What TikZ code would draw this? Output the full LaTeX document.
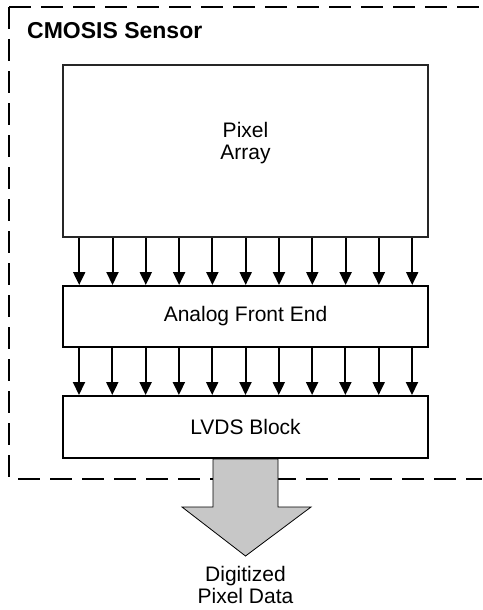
\documentclass[tikz,border=0pt]{standalone}
\usepackage{fontspec}
\setmainfont{Liberation Sans}
\usetikzlibrary{arrows.meta}
\begin{document}
\begin{tikzpicture}[x=1pt,y=-1pt,
  box/.style={draw=black, line width=2pt, minimum width=365pt, inner sep=0pt, font=\fontsize{21}{22}\selectfont},
  lbl/.style={align=center, inner sep=0pt, font=\fontsize{21}{22}\selectfont},
  arr/.style={line width=2pt, -{Triangle[width=12pt,length=13pt]}},
  frame/.style={line width=2pt, dash pattern=on 22pt off 10pt},
  bigarrow/.style={draw=black, line width=0.8pt, fill=black!22}]
\useasboundingbox (0,0) rectangle (482,610);
% sensor frame
\draw[frame] (9,7) -- (9,479);
\draw[frame] (9,7) -- (482,7);
\draw[frame] (18,479) -- (482,479);
\node[anchor=west, inner sep=0pt, font=\fontsize{23}{25}\selectfont\bfseries] (title) at (27,31) {CMOSIS Sensor};
% blocks
\node[box, draw=black!85, line width=1.6pt, minimum height=172pt] (pa) at (245.5,151) {};
\node[lbl] (patext) at (245.5,143) {Pixel\\Array};
\node[box, minimum height=61pt] (afe) at (245.5,316.5) {Analog Front End};
\node[box, minimum height=62pt] (lvds) at (245.5,427) {LVDS Block};
% arrows
\foreach \i in {0,...,10} {
  \coordinate (t\i) at ([xshift={17+33.3*\i}]pa.south west);
  \draw[arr] (t\i) -- (t\i |- afe.north);
  \coordinate (u\i) at ([xshift={17+33.3*\i}]afe.south west);
  \draw[arr] (u\i) -- (u\i |- lvds.north);
}
% output arrow
\coordinate (o) at (lvds.south);
\draw[bigarrow] ([xshift=-32.5pt]o) -- ([xshift=32.5pt]o) -- ([xshift=32.5pt,yshift=-48pt]o)
  -- ([xshift=65.5pt,yshift=-48pt]o) -- ([yshift=-97pt]o) -- ([xshift=-63.5pt,yshift=-48pt]o)
  -- ([xshift=-32.5pt,yshift=-48pt]o) -- cycle;
\node[lbl] (out) at (245.5,585) {Digitized\\Pixel Data};
\end{tikzpicture}
\end{document}
